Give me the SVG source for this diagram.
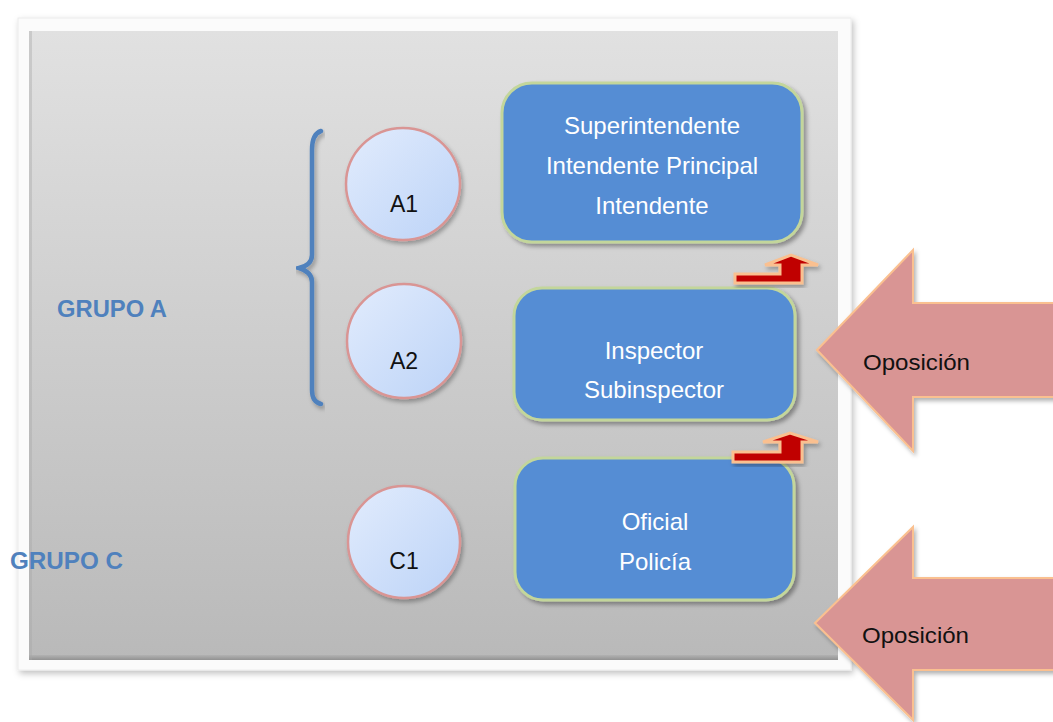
<svg xmlns="http://www.w3.org/2000/svg" width="1053" height="722" viewBox="0 0 1053 722">
<defs>
<linearGradient id="panelGrad" x1="0" y1="0" x2="0" y2="1">
<stop offset="0" stop-color="#e1e1e1"/>
<stop offset="1" stop-color="#b9b9b9"/>
</linearGradient>
<linearGradient id="edgeGrad" x1="0" y1="0" x2="0" y2="1">
<stop offset="0" stop-color="#b0b0b0"/>
<stop offset="1" stop-color="#888888"/>
</linearGradient>
<linearGradient id="circGrad" x1="0" y1="0" x2="1" y2="1">
<stop offset="0" stop-color="#e2ecfd"/>
<stop offset="1" stop-color="#bcd3f7"/>
</linearGradient>
<filter id="frameShadow" x="-5%" y="-5%" width="110%" height="110%">
<feDropShadow dx="2" dy="3" stdDeviation="3" flood-color="#000" flood-opacity="0.25"/>
</filter>
<filter id="shadow" x="-10%" y="-10%" width="125%" height="125%">
<feDropShadow dx="3" dy="3" stdDeviation="2" flood-color="#000" flood-opacity="0.35"/>
</filter>
<filter id="softShadow" x="-10%" y="-10%" width="125%" height="125%">
<feDropShadow dx="2" dy="3" stdDeviation="2" flood-color="#000" flood-opacity="0.3"/>
</filter>
</defs>
<style>
.box{fill:#548dd4;stroke:#c3d69b;stroke-width:3;filter:url(#shadow)}
.circ{fill:url(#circGrad);stroke:#d99594;stroke-width:2.5;filter:url(#softShadow)}
.boxtxt{font-family:"Liberation Sans",Arial,sans-serif;font-size:24px;fill:#ffffff;text-anchor:middle}
.ctxt{font-family:"Liberation Sans",Arial,sans-serif;font-size:23px;fill:#111111;text-anchor:middle}
.grp{font-family:"Liberation Sans",Arial,sans-serif;font-size:23px;font-weight:bold;fill:#4f81bd}
.bent{fill:#c00000;stroke:#fac090;stroke-width:3;stroke-linejoin:miter;filter:url(#softShadow)}
.big{fill:#d99594;stroke:#fac090;stroke-width:2;filter:url(#softShadow)}
.optxt{font-family:"Liberation Sans",Arial,sans-serif;font-size:22px;fill:#111111}
</style>
<rect width="1053" height="722" fill="#ffffff"/>
<g id="panel">
<rect x="18" y="18" width="833" height="652" fill="#fbfbfb" stroke="#ececec" stroke-width="1" filter="url(#frameShadow)"/>
<rect x="29" y="31" width="809" height="629" fill="url(#panelGrad)"/>
<rect x="29" y="655" width="809" height="5" fill="url(#edgeGrad)" opacity="0.8"/>
<rect x="29" y="31" width="3" height="629" fill="#a8a8a8" opacity="0.4"/>
</g>
<g id="brace">
<path d="M321,131 Q312,134 312,150 L312,255 Q312,265 299,268 Q312,272 312,282 L312,390 Q312,402 321,404" fill="none" stroke="#4f81bd" stroke-width="4.5" stroke-linecap="round" filter="url(#softShadow)"/>
</g>
<g id="grupoA"><text class="grp" x="57" y="317" textLength="110" lengthAdjust="spacingAndGlyphs">GRUPO A</text></g>
<g id="grupoC"><text class="grp" x="10" y="569" textLength="113" lengthAdjust="spacingAndGlyphs">GRUPO C</text></g>
<g id="A1"><ellipse class="circ" cx="403" cy="184" rx="57" ry="56"/><text class="ctxt" x="404" y="212">A1</text></g>
<g id="A2"><ellipse class="circ" cx="404" cy="341" rx="57" ry="57"/><text class="ctxt" x="404" y="369">A2</text></g>
<g id="C1"><ellipse class="circ" cx="404" cy="542" rx="56" ry="56"/><text class="ctxt" x="404" y="569">C1</text></g>
<g id="box1">
<rect class="box" x="502" y="83" width="300" height="159" rx="30"/>
<text class="boxtxt" x="652" y="134">Superintendente</text>
<text class="boxtxt" x="652" y="174">Intendente Principal</text>
<text class="boxtxt" x="652" y="214">Intendente</text>
</g>
<g id="box2">
<rect class="box" x="514" y="288" width="281" height="132" rx="28"/>
<text class="boxtxt" x="654" y="359">Inspector</text>
<text class="boxtxt" x="654" y="398">Subinspector</text>
</g>
<g id="box3">
<rect class="box" x="515" y="458" width="279" height="142" rx="28"/>
<text class="boxtxt" x="655" y="530">Oficial</text>
<text class="boxtxt" x="655" y="570">Policía</text>
</g>
<g id="connectors">
<polygon class="bent" points="735,274 780,274 780,265 765,265 791,255 818,265 802,265 802,283 735,283"/>
<polygon class="bent" points="733,452 780,452 780,442 763,442 790,433 818,442 802,442 802,462 733,462"/>
</g>
<g id="oposicion1">
<polygon class="big" points="817,350 913,250 913,303 1060,303 1060,397 913,397 913,451"/>
<text class="optxt" x="863" y="370" textLength="107" lengthAdjust="spacingAndGlyphs">Oposición</text>
</g>
<g id="oposicion2">
<polygon class="big" points="815,623 913,527 913,578 1060,578 1060,670 913,670 913,720"/>
<text class="optxt" x="862" y="643" textLength="107" lengthAdjust="spacingAndGlyphs">Oposición</text>
</g>
</svg>
